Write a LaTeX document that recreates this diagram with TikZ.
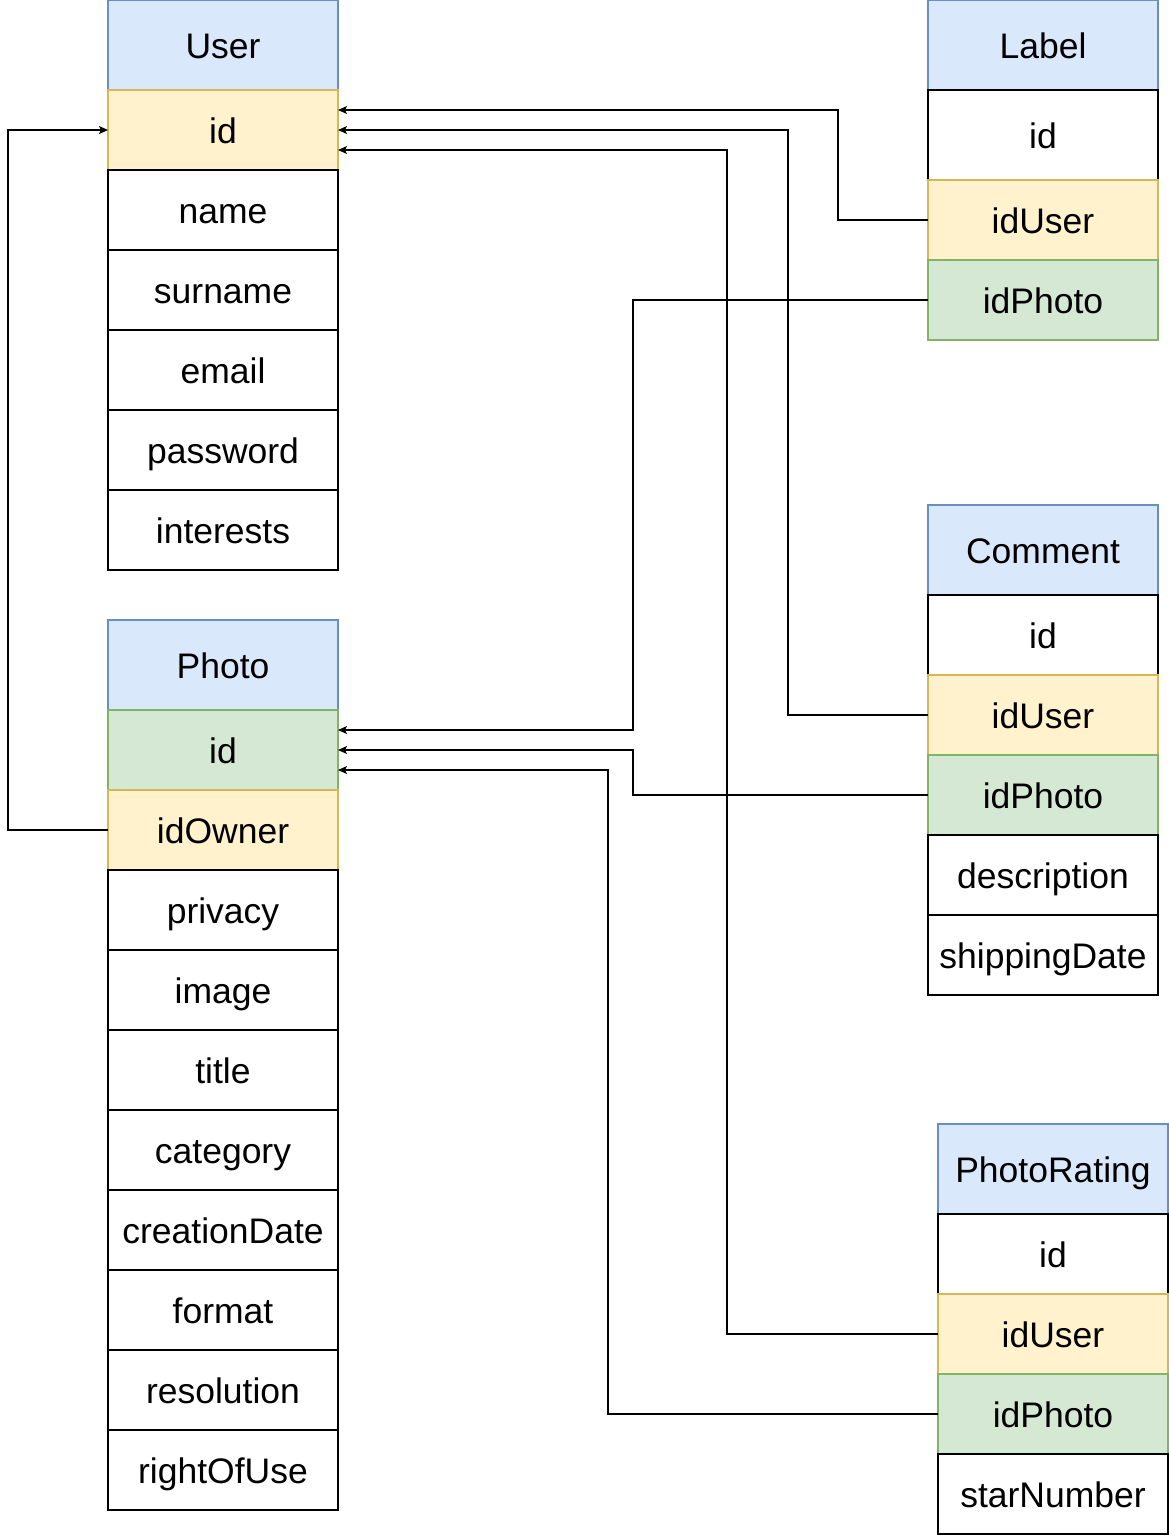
\documentclass[tikz,border=0pt]{standalone}
\usepackage{fontspec}
\setmainfont{Liberation Sans}
\usetikzlibrary{arrows.meta}
\definecolor{hdrfill}{HTML}{DAE8FC}
\definecolor{hdrline}{HTML}{6C8EBF}
\definecolor{yfill}{HTML}{FFF2CC}
\definecolor{yline}{HTML}{D6B656}
\definecolor{gfill}{HTML}{D5E8D4}
\definecolor{gline}{HTML}{82B366}
\tikzset{
  cell/.style={draw=black, fill=white, line width=1.1pt, minimum width=230pt, minimum height=80pt,
    inner sep=0pt, outer sep=0pt, text height=32pt, text depth=6pt,
    font=\fontsize{35.5}{40}\selectfont, text=black},
  hdr/.style={cell, fill=hdrfill, draw=hdrline, minimum height=90pt},
  fk/.style={cell, fill=yfill, draw=yline},
  pk/.style={cell, fill=gfill, draw=gline},
  conn/.style={draw=black, line width=1.1pt, -{Stealth[length=9pt,width=8pt,inset=2pt]}}
}
\begin{document}
\begin{tikzpicture}[x=1pt,y=-1pt]
\useasboundingbox (0,0) rectangle (1168,1535);
\fill[white] (0,0) rectangle (1168,1535);
% User
\node[hdr] (u-h) at (223,45) {User};
\node[fk] (u-id) at (223,130) {id};
\node[cell] (u-name) at (223,210) {name};
\node[cell] (u-surname) at (223,290) {surname};
\node[cell] (u-email) at (223,370) {email};
\node[cell] (u-password) at (223,450) {password};
\node[cell] (u-interests) at (223,530) {interests};
% Photo
\node[hdr] (p-h) at (223,665) {Photo};
\node[pk] (p-id) at (223,750) {id};
\node[fk] (p-idowner) at (223,830) {idOwner};
\node[cell] (p-privacy) at (223,910) {privacy};
\node[cell] (p-image) at (223,990) {image};
\node[cell] (p-title) at (223,1070) {title};
\node[cell] (p-category) at (223,1150) {category};
\node[cell] (p-creation) at (223,1230) {creationDate};
\node[cell] (p-format) at (223,1310) {format};
\node[cell] (p-resolution) at (223,1390) {resolution};
\node[cell] (p-right) at (223,1470) {rightOfUse};
% Label
\node[hdr] (l-h) at (1043,45) {Label};
\node[cell, minimum height=90pt] (l-id) at (1043,135) {id};
\node[fk] (l-iduser) at (1043,220) {idUser};
\node[pk] (l-idphoto) at (1043,300) {idPhoto};
% Comment
\node[hdr] (c-h) at (1043,550) {Comment};
\node[cell] (c-id) at (1043,635) {id};
\node[fk] (c-iduser) at (1043,715) {idUser};
\node[pk] (c-idphoto) at (1043,795) {idPhoto};
\node[cell] (c-desc) at (1043,875) {description};
\node[cell] (c-date) at (1043,955) {shippingDate};
% PhotoRating
\node[hdr] (r-h) at (1053,1169) {PhotoRating};
\node[cell] (r-id) at (1053,1254) {id};
\node[fk] (r-iduser) at (1053,1334) {idUser};
\node[pk] (r-idphoto) at (1053,1414) {idPhoto};
\node[cell] (r-star) at (1053,1494) {starNumber};
% connectors
\draw[conn] (l-iduser.west) -- ++(-90,0) |- ([yshift=20pt]u-id.east);
\draw[conn] (c-iduser.west) -- ++(-140,0) |- (u-id.east);
\draw[conn] (r-iduser.west) -- ++(-211,0) |- ([yshift=-20pt]u-id.east);
\draw[conn] (l-idphoto.west) -- ++(-295,0) |- ([yshift=20pt]p-id.east);
\draw[conn] (c-idphoto.west) -- ++(-295,0) |- (p-id.east);
\draw[conn] (r-idphoto.west) -- ++(-330,0) |- ([yshift=-20pt]p-id.east);
\draw[conn] (p-idowner.west) -- ++(-100,0) |- (u-id.west);
\end{tikzpicture}
\end{document}
